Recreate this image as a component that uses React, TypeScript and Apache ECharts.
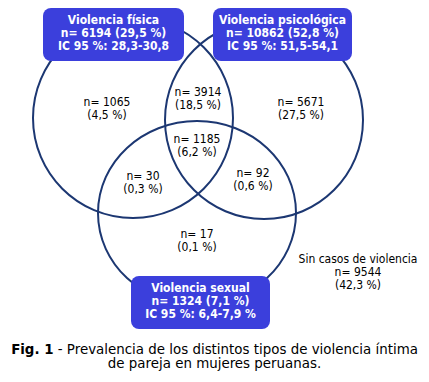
import React, { useEffect, useRef } from "react";
import * as echarts from "echarts";

// ---- Data ----
const setNames = ["Violencia física", "Violencia psicológica", "Violencia sexual"];
const setCounts = [6194, 10862, 1324];
const setPcts = ["29,5", "52,8", "7,1"];
const setCI = ["28,3-30,8", "51,5-54,1", "6,4-7,9 %"];

const regionNames = [
  "Solo física",
  "Física y psicológica",
  "Solo psicológica",
  "Las tres",
  "Física y sexual",
  "Psicológica y sexual",
  "Solo sexual",
  "Sin casos de violencia",
];
const regionCounts = [1065, 3914, 5671, 1185, 30, 92, 17, 9544];
const regionPcts = ["4,5", "18,5", "27,5", "6,2", "0,3", "0,6", "0,1", "42,3"];

const captionBold = "Fig. 1";
const captionRest = " - Prevalencia de los distintos tipos de violencia íntima\nde pareja en mujeres peruanas.";

// ---- Layout (pixel units on hidden axes) ----
const ellipseLayout = [
  [133, 118, 100, 100],
  [264, 120, 99, 99],
  [197, 213, 99, 92],
];
const regionLayout = [
  [107, 102],
  [198, 92],
  [301, 102],
  [197, 139],
  [143, 176],
  [253, 173],
  [197, 234],
  [358, 259],
];
const boxLayout = [
  [43, 8, 141, 53],
  [213, 8, 139, 53],
  [131, 276, 139, 53],
];

const FONT = '"DejaVu Sans Condensed", "Liberation Sans", sans-serif';
const CAPTION_FONT = '"DejaVu Sans", "Liberation Sans", sans-serif';
const BOX_COLOR = "#3b3fdc";
const LINE_COLOR = "#1c3772";

export default function App() {
  const ref = useRef<HTMLDivElement>(null);
  useEffect(() => {
    if (!ref.current) return;
    const chart = echarts.init(ref.current, undefined, { renderer: "svg" });

    const boxes: any[] = boxLayout.map((b, i) => {
      const [x, y, w, h] = b;
      const lines = [
        setNames[i],
        `n= ${setCounts[i]} (${setPcts[i]} %)`,
        `IC 95 %: ${setCI[i]}`,
      ];
      return {
        type: "group",
        z: 50,
        children: [
          {
            type: "rect",
            shape: { x, y, width: w, height: h, r: 8 },
            style: { fill: BOX_COLOR },
            z: 50,
          },
          ...lines.map((t, k) => ({
            type: "text",
            z: 51,
            x: x + w / 2,
            y: y + 11.5 + k * 13,
            style: {
              text: t,
              fill: "#ffffff",
              font: `bold 12px ${FONT}`,
              align: "center",
              verticalAlign: "middle",
            },
          })),
        ],
      };
    });

    const caption = {
      type: "text",
      x: 214.5,
      y: 356.5,
      style: {
        text: `{b|${captionBold}}${captionRest}`,
        align: "center",
        verticalAlign: "middle",
        fill: "#000",
        font: `13.4px ${CAPTION_FONT}`,
        lineHeight: 13.5,
        rich: {
          b: { fontWeight: "bold", fontSize: 13.4, fontFamily: CAPTION_FONT, lineHeight: 13.5 },
        },
      },
    };

    const regionData = regionLayout.map((p, i) => [p[0], p[1], i]);

    chart.setOption({
      animation: false,
      backgroundColor: "#ffffff",
      grid: { left: 0, right: 0, top: 0, bottom: 0 },
      xAxis: { type: "value", min: 0, max: 429, show: false },
      yAxis: { type: "value", min: 0, max: 382, inverse: true, show: false },
      series: [
        {
          type: "custom",
          name: "sets",
          data: ellipseLayout,
          z: 2,
          silent: true,
          renderItem: (params: any, api: any) => {
            const c = api.coord([api.value(0), api.value(1)]);
            const s = api.size([api.value(2), api.value(3)]);
            return {
              type: "ellipse",
              shape: { cx: c[0], cy: c[1], rx: s[0], ry: s[1] },
              style: { fill: "none", stroke: LINE_COLOR, lineWidth: 2 },
            };
          },
        },
        {
          type: "custom",
          name: "regions",
          data: regionData,
          z: 3,
          silent: true,
          renderItem: (params: any, api: any) => {
            const c = api.coord([api.value(0), api.value(1)]);
            const i = api.value(2);
            const lines =
              i === 7
                ? [regionNames[i], `n= ${regionCounts[i]}`, `(${regionPcts[i]} %)`]
                : [`n= ${regionCounts[i]}`, `(${regionPcts[i]} %)`];
            return {
              type: "group",
              children: lines.map((t, k) => ({
                type: "text",
                style: {
                  text: t,
                  x: c[0],
                  y: c[1] + k * 13,
                  fill: "#000",
                  font: `12px ${FONT}`,
                  align: "center",
                  verticalAlign: "middle",
                },
              })),
            };
          },
        },
      ],
      graphic: [...boxes, caption],
    });
    return () => chart.dispose();
  }, []);
  return (
    <div
      ref={ref}
      style={{ position: "fixed", left: 0, top: 0, width: 429, height: 382, background: "#fff" }}
    />
  );
}
